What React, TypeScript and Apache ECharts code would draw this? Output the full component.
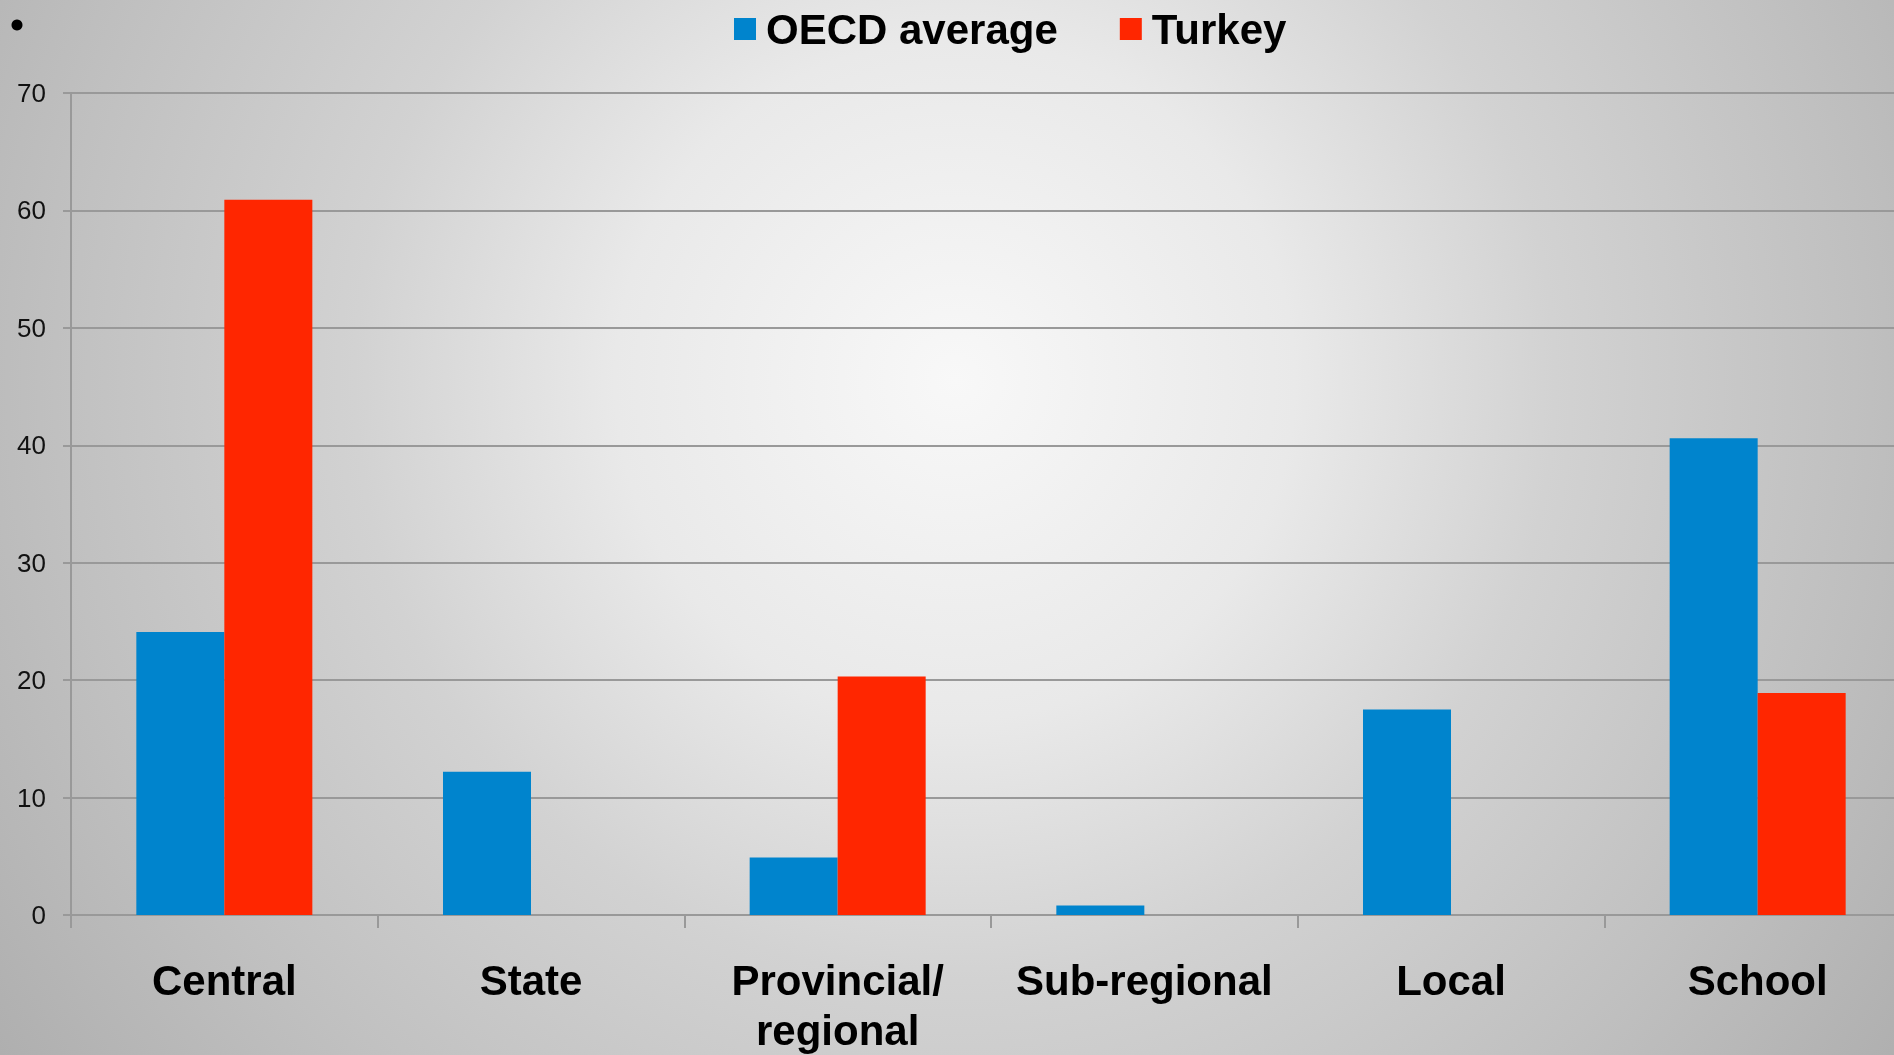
import React, { useEffect, useRef } from "react";
import * as echarts from "echarts";

const categories = ["Central", "State", "Provincial/\nregional", "Sub-regional", "Local", "School"];
const oecdValues = [24.1, 12.2, 4.9, 0.8, 17.5, 40.6];
const turkeyValues = [60.9, 0, 20.3, 0, 0, 18.9];
const seriesNames = ["OECD average", "Turkey"];
const yTicks = { min: 0, max: 70, interval: 10 };

const FONT = "Liberation Sans";

export default function App() {
  const ref = useRef<HTMLDivElement>(null);
  useEffect(() => {
    if (!ref.current) return;
    const chart = echarts.init(ref.current, null, { renderer: "svg" });
    chart.setOption({
      animation: false,
      backgroundColor: "transparent",
      graphic: [
        {
          type: "circle",
          shape: { cx: 17, cy: 25, r: 5.5 },
          style: { fill: "#000" },
        },
      ],
      legend: {
        left: 734,
        top: 8,
        padding: 0,
        itemGap: 62,
        itemWidth: 22,
        itemHeight: 22,
        icon: "rect",
        textStyle: {
          fontFamily: FONT,
          fontSize: 42,
          fontWeight: "bold",
          color: "#000",
          lineHeight: 42,
          padding: [0, 0, 0, 5],
        },
        data: seriesNames,
      },
      grid: { left: 71, right: 0, top: 93, bottom: 140, containLabel: false },
      xAxis: {
        type: "category",
        data: categories,
        axisLine: { show: true, lineStyle: { color: "#999", width: 2 } },
        axisTick: { show: true, length: 13, lineStyle: { color: "#999", width: 2 } },
        axisLabel: {
          interval: 0,
          margin: 40,
          fontFamily: FONT,
          fontSize: 42,
          fontWeight: "bold",
          color: "#000",
          lineHeight: 50,
        },
      },
      yAxis: {
        type: "value",
        min: yTicks.min,
        max: yTicks.max,
        interval: yTicks.interval,
        axisLine: { show: true, lineStyle: { color: "#999", width: 2 } },
        axisTick: { show: true, length: 8, lineStyle: { color: "#999", width: 2 } },
        splitLine: { show: true, lineStyle: { color: "#999", width: 2 } },
        axisLabel: {
          margin: 25,
          fontFamily: FONT,
          fontSize: 26,
          color: "#111",
        },
      },
      series: [
        {
          name: seriesNames[0],
          type: "bar",
          data: oecdValues,
          barWidth: 88,
          barGap: "0%",
          itemStyle: { color: "#0084CD" },
        },
        {
          name: seriesNames[1],
          type: "bar",
          data: turkeyValues,
          barWidth: 88,
          barGap: "0%",
          itemStyle: { color: "#FF2600" },
        },
      ],
    });
    return () => chart.dispose();
  }, []);

  return (
    <div
      style={{
        position: "fixed",
        left: 0,
        top: 0,
        width: 1894,
        height: 1055,
        overflow: "hidden",
        background:
          "radial-gradient(circle at 955px 380px, #f8f8f8 0px, #e9e9e9 340px, #d2d2d2 600px, #c0c0c0 900px, #adadad 1200px)",
      }}
    >
      <div ref={ref} style={{ position: "absolute", left: 0, top: 0, width: 1911, height: 1055 }} />
    </div>
  );
}
